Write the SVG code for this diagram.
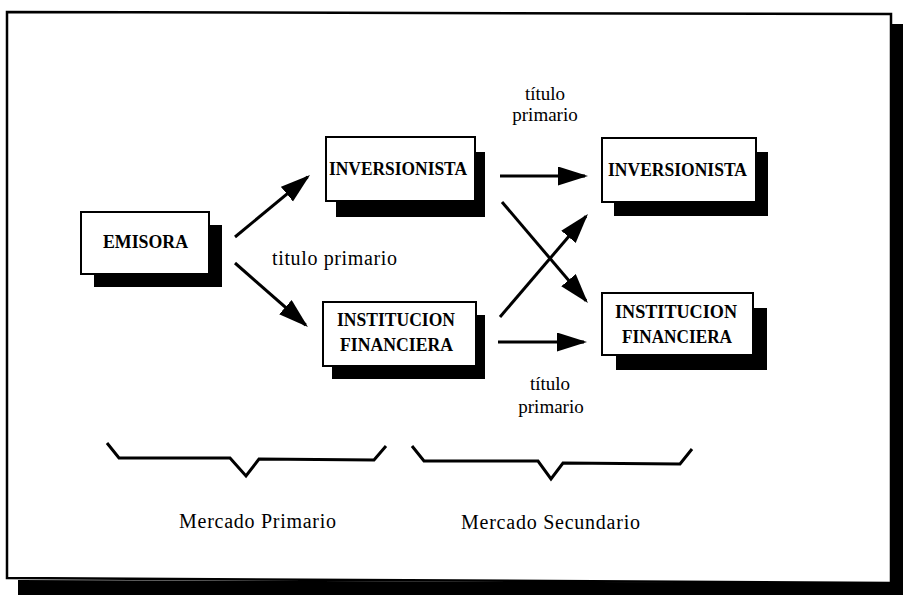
<svg xmlns="http://www.w3.org/2000/svg" width="903" height="595" viewBox="0 0 903 595">
<style>
.bg{fill:#fff}
.frame{fill:#fff;stroke:#000;stroke-width:2.5}
.fshadow{fill:#000}
.box{fill:#fff;stroke:#000;stroke-width:2}
.shadow{fill:#000}
.lbl{font-family:"Liberation Serif","Times New Roman",serif;font-weight:bold;font-size:18px;fill:#000;text-anchor:middle}
.txt{font-family:"Liberation Serif","Times New Roman",serif;font-size:19px;fill:#000;text-anchor:middle}
.conn{stroke:#000;stroke-width:3;fill:none;marker-end:url(#ah)}
.brace{stroke:#000;stroke-width:3;fill:none;stroke-linejoin:miter}
</style>
<defs>
<marker id="ah" markerUnits="userSpaceOnUse" markerWidth="32" markerHeight="20" refX="27" refY="9.5" orient="auto">
<path d="M0,0 L30,9.5 L0,19 Z" fill="#000"/>
</marker>
</defs>
<rect class="bg" x="0" y="0" width="903" height="595"/>
<g id="frame">
<polygon class="fshadow" points="891,24 903,24 903,595 18,595 18,580 891,583"/>
<polygon class="frame" points="7,12 891,14 891,583 7,578"/>
</g>
<g id="emisora">
<rect class="shadow" x="94" y="225" width="128" height="62"/>
<rect class="box" x="81" y="212" width="128" height="62"/>
<text class="lbl" x="145.5" y="248" textLength="85" lengthAdjust="spacingAndGlyphs">EMISORA</text>
</g>
<g id="inversionista1">
<rect class="shadow" x="336" y="152" width="149" height="65"/>
<rect class="box" x="326" y="137" width="149" height="64"/>
<text class="lbl" x="398" y="175" textLength="138" lengthAdjust="spacingAndGlyphs">INVERSIONISTA</text>
</g>
<g id="institucion1">
<rect class="shadow" x="332" y="315" width="153" height="64"/>
<rect class="box" x="323" y="302" width="153" height="64"/>
<text class="lbl" x="396" y="326" textLength="118" lengthAdjust="spacingAndGlyphs">INSTITUCION</text>
<text class="lbl" x="396.5" y="351" textLength="113" lengthAdjust="spacingAndGlyphs">FINANCIERA</text>
</g>
<g id="inversionista2">
<rect class="shadow" x="614" y="152" width="154" height="64"/>
<rect class="box" x="602" y="138" width="154" height="64"/>
<text class="lbl" x="677.5" y="176" textLength="139" lengthAdjust="spacingAndGlyphs">INVERSIONISTA</text>
</g>
<g id="institucion2">
<rect class="shadow" x="616" y="308" width="151" height="62"/>
<rect class="box" x="602" y="293" width="151" height="62"/>
<text class="lbl" x="676" y="318" textLength="122" lengthAdjust="spacingAndGlyphs">INSTITUCION</text>
<text class="lbl" x="677" y="343" textLength="110" lengthAdjust="spacingAndGlyphs">FINANCIERA</text>
</g>
<g id="connectors">
<line class="conn" x1="235" y1="237" x2="307.7" y2="176.9"/>
<line class="conn" x1="235" y1="263" x2="305.7" y2="325"/>
<line class="conn" x1="500" y1="176" x2="585" y2="176"/>
<line class="conn" x1="502" y1="202" x2="586" y2="300.7"/>
<line class="conn" x1="500" y1="317" x2="586" y2="216.3"/>
<line class="conn" x1="498" y1="342" x2="584" y2="342"/>
</g>
<g id="labels">
<text class="txt" x="545" y="100">título</text>
<text class="txt" x="545" y="121">primario</text>
<text class="txt" x="334.5" y="265" style="font-size:20px" textLength="125" lengthAdjust="spacing">titulo primario</text>
<text class="txt" x="550" y="390">título</text>
<text class="txt" x="551" y="413">primario</text>
</g>
<g id="braces">
<polyline class="brace" points="107,443 119,458 230,458 246,476 259,459 374,460 386,446"/>
<polyline class="brace" points="412,446 424,461 538,461 551,479 563,463 680,464 692,449"/>
<text class="txt" x="257.5" y="528" style="font-size:20px" textLength="157" lengthAdjust="spacing">Mercado Primario</text>
<text class="txt" x="550.5" y="529" style="font-size:20px" textLength="179" lengthAdjust="spacing">Mercado Secundario</text>
</g>
</svg>
